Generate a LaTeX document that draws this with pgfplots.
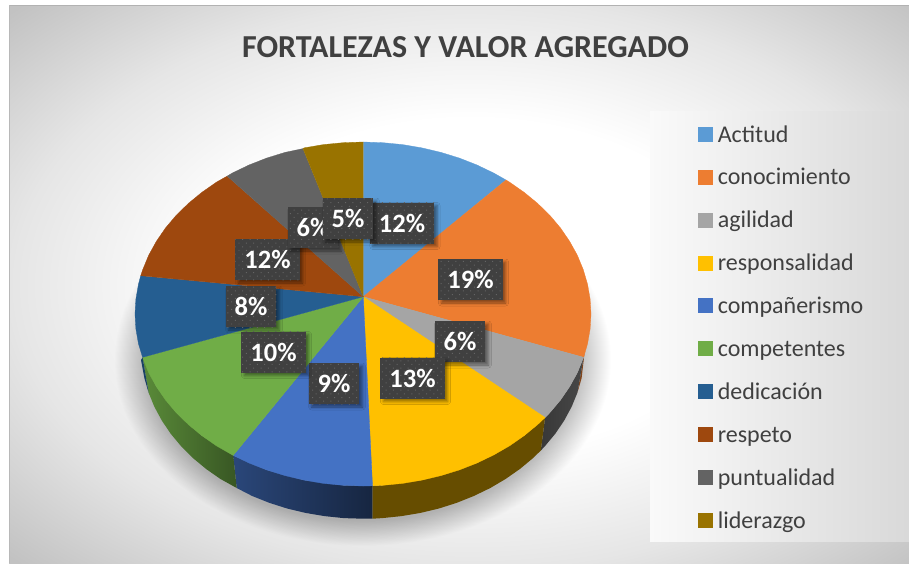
\documentclass[border=0pt]{standalone}
\usepackage{fontspec}
\setmainfont{Carlito}
\usepackage{pgfplots}
\pgfplotsset{compat=1.18}
\usetikzlibrary{patterns.meta,shadows.blur}
\definecolor{sActitud}{HTML}{5B9BD5}
\definecolor{sConoc}{HTML}{ED7D31}
\definecolor{sAgil}{HTML}{A5A5A5}
\definecolor{sResp}{HTML}{FFC000}
\definecolor{sComp}{HTML}{4472C4}
\definecolor{sCompet}{HTML}{70AD47}
\definecolor{sDedic}{HTML}{255E91}
\definecolor{sRespeto}{HTML}{9E480E}
\definecolor{sPunt}{HTML}{636363}
\definecolor{sLider}{HTML}{997300}
\definecolor{textdark}{HTML}{404040}
\definecolor{labelbox}{HTML}{404040}
\definecolor{labeldot}{HTML}{646464}
\pgfdeclareradialshading{chartbg}{\pgfpoint{0bp}{0bp}}{
  color(0bp)=(white);
  color(10.5bp)=(white);
  color(18bp)=(black!10);
  color(25bp)=(black!24);
  color(50bp)=(black!24)
}
\begin{document}
\begin{tikzpicture}
  \path[use as bounding box] (0,0) rectangle (909pt,563pt);
  \begin{scope}[x=1pt,y=-1pt,yshift=563pt]
    % background and legend panel
    \fill[white] (0,0) rectangle (909,563);
    \begin{scope}
      \clip (9,6) rectangle (909,563);
      \shade[shading=chartbg] (-166,-111) rectangle (1106,681);
    \end{scope}
    \fill[black!30] (9,5) rectangle (909,6.5);
    \fill[black!28] (8.5,5) rectangle (10,563);
    \shade[left color=white!98!black,right color=black!15] (650,112) rectangle (909,541);
    % soft shadow under the pie
    \foreach \k in {0,...,31}{
      \fill[black,opacity=0.0095] (363,360) ellipse ({248-\k} and {186-0.8*\k});
    }
  \end{scope}
  \begin{axis}[
      at={(0pt,0pt)}, anchor=south west,
      scale only axis, width=909pt, height=563pt,
      xmin=0, xmax=909, ymin=0, ymax=563,
      y dir=reverse, hide axis, clip=false,
      legend image code/.code={\fill[#1] (0pt,1pt) rectangle (14pt,15pt);},
      legend style={
        at={(axis cs:697.5,125)}, anchor=north west,
        draw=none, fill=none, inner sep=0pt, outer sep=0pt,
        font=\fontsize{24}{24}\selectfont, text=textdark,
        row sep=20.4pt, column sep=6pt,
        nodes={inner sep=0pt, anchor=base west, text height=17pt, text depth=5.5pt},
      },
      legend cell align=left,
    ]
    % side walls
    \addplot[forget plot, fill=sConoc!55!black, draw=none] coordinates {
      (584.5,353) (581.6,378.2) (577.4,392.7) (583.6,357.3) };
    \addplot[forget plot, left color=black!78, right color=black!72, draw=none] coordinates {
      (583.6,357.3) (577.4,392.7) (571.6,406.8) (564.2,420.5) (555.3,433.7) (544.9,446.2) (540.8,450.5)
      (545.1,417.5) (549.8,412.7) (560.5,400) (569.6,386.7) (577.3,372.8) };
    \addplot[forget plot, fill=sResp!40!black, draw=none] coordinates {
      (545.1,417.5) (540.8,450.5) (533.1,458) (520,468.9) (505.7,478.9) (490.3,488) (474,495.9) (456.8,502.8)
      (438.9,508.5) (420.5,512.9) (401.5,516.1) (382.3,518.1) (372.3,518.7)
      (372.5,485.8) (382.9,485.3) (422,480.1) (477,463) (524.2,435.6) };
    \addplot[forget plot, left color=sComp!62!black, right color=sComp!33!black, draw=none] coordinates {
      (372.5,485.8) (372.3,518.7) (363,518.7) (343.7,518.1) (324.5,516.1) (305.5,512.9) (287.1,508.5)
      (269.2,502.8) (252,495.9) (236.7,488) (233.2,455.4) (266.6,469.9) (304,480.1) (343.1,485.3) };
    \addplot[forget plot, left color=sCompet!80!black, right color=sCompet!50!black, draw=none] coordinates {
      (233.2,455.4) (236.7,488) (220.3,478.9) (206,468.9) (192.9,458) (181.1,446.2) (170.7,433.7)
      (161.8,420.5) (154.4,406.8) (148.6,392.7) (142.6,357.3) (156.4,386.7) (176.2,412.7) (201.8,435.6) };
    \addplot[forget plot, fill=sDedic!70!black, draw=none] coordinates {
      (142.6,357.3) (148.6,392.7) (144.4,378.2) (141,360) };
    % top faces
    \addplot[fill=sActitud, draw=sActitud, line width=0.3pt] coordinates {
      (363.3,296.7) (363.3,142) (382.9,142.7) (402.6,144.6) (422,147.9) (441,152.4) (459.4,158.1)
      (477,165) (493.8,173.1) (506,180) };
    \addplot[fill=sConoc, draw=sConoc, line width=0.3pt] coordinates {
      (363.3,296.7) (506,180) (509.6,182.2) (524.2,192.4) (537.6,203.4) (549.8,215.3) (560.5,228)
      (569.6,241.3) (577.3,255.2) (583.2,269.5) (587.5,284.1) (590.1,299) (591,314) (590.1,329)
      (587.5,343.9) (583.6,357.3) };
    \addplot[fill=sAgil, draw=sAgil, line width=0.3pt] coordinates {
      (363.3,296.7) (583.6,357.3) (577.3,372.8) (569.6,386.7) (560.5,400) (549.8,412.7) (545.1,417.5) };
    \addplot[fill=sResp, draw=sResp, line width=0.3pt] coordinates {
      (363.3,296.7) (545.1,417.5) (537.6,424.6) (524.2,435.6) (509.6,445.8) (493.8,454.9) (477,463)
      (459.4,469.9) (441,475.6) (422,480.1) (402.6,483.4) (382.9,485.3) (372.5,485.8) };
    \addplot[fill=sComp, draw=sComp, line width=0.3pt] coordinates {
      (363.3,296.7) (372.5,485.8) (363,486) (343.1,485.3) (323.4,483.4) (304,480.1) (285,475.6)
      (266.6,469.9) (249,463) (233.2,455.4) };
    \addplot[fill=sCompet, draw=sCompet, line width=0.3pt] coordinates {
      (363.3,296.7) (233.2,455.4) (216.4,445.8) (201.8,435.6) (188.4,424.6) (176.2,412.7) (165.5,400)
      (156.4,386.7) (148.7,372.8) (142.6,357.3) };
    \addplot[fill=sDedic, draw=sDedic, line width=0.3pt] coordinates {
      (363.3,296.7) (142.6,357.3) (138.5,343.9) (135.9,329) (135,314) (135.9,299) (138.5,284.1) (140.7,275.7) };
    \addplot[fill=sRespeto, draw=sRespeto, line width=0.3pt] coordinates {
      (363.3,296.7) (140.7,275.7) (142.8,269.5) (148.7,255.2) (156.4,241.3) (165.5,228) (176.2,215.3)
      (188.4,203.4) (201.8,192.4) (216.4,182.2) (227.2,176.1) };
    \addplot[fill=sPunt, draw=sPunt, line width=0.3pt] coordinates {
      (363.3,296.7) (227.2,176.1) (232.2,173.1) (249,165) (266.6,158.1) (285,152.4) (303,148.6) };
    \addplot[fill=sLider, draw=sLider, line width=0.3pt] coordinates {
      (363.3,296.7) (303,148.6) (304,147.9) (323.4,144.6) (343.1,142.7) (363.3,142) };
    \legend{Actitud,conocimiento,agilidad,responsalidad,compañerismo,competentes,dedicación,respeto,puntualidad,liderazgo}
    % data labels
    \addplot[forget plot, draw=none, mark=none,
      nodes near coords, point meta=explicit symbolic,
      every node near coord/.style={
        anchor=center, minimum height=41pt, inner xsep=9pt, inner ysep=0pt,
        font=\fontsize{26.5}{26.5}\bfseries\selectfont, text=white,
        blur shadow={shadow xshift=3pt, shadow yshift=-3pt, shadow blur radius=3pt, shadow opacity=45},
        preaction={fill=labelbox},
        pattern={Dots[distance=5.2pt, radius=0.7pt, angle=45]},
        pattern color=labeldot,
      },
    ] coordinates {
      (402,223) [12\%]
      (470.5,279.5) [19\%]
      (460,341.5) [6\%]
      (412.5,378) [13\%]
      (334,383.5) [9\%]
      (273.5,352) [10\%]
      (251,306.5) [8\%]
      (267.5,259.5) [12\%]
      (313,227.5) [6\%]
      (348,218.5) [5\%]
    };
    % title
    \node[font=\fontsize{32}{32}\bfseries\selectfont, text=textdark, anchor=center]
      at (axis cs:465.5,47) {FORTALEZAS Y VALOR AGREGADO};
  \end{axis}
\end{tikzpicture}
\end{document}
